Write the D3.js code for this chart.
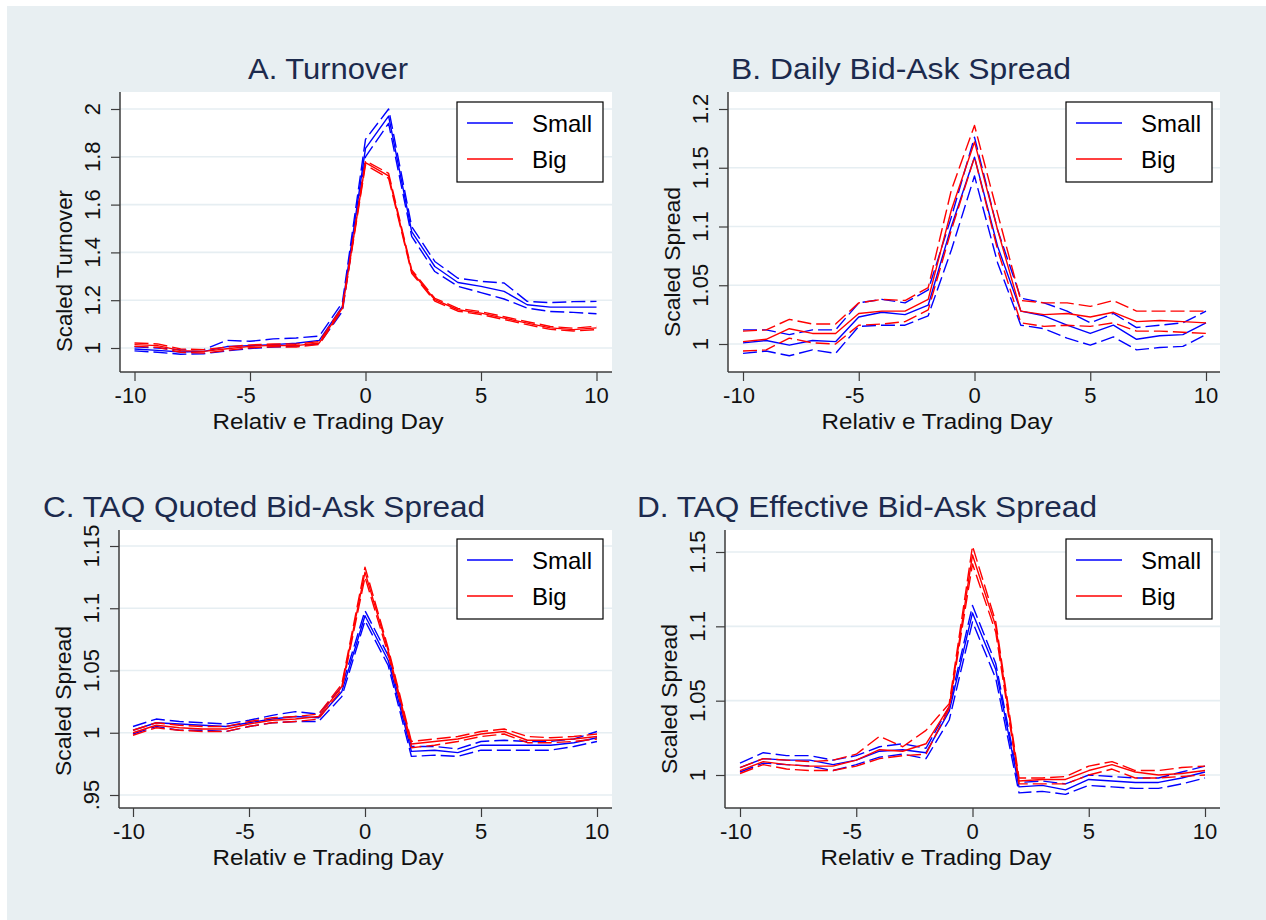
<!DOCTYPE html>
<html>
<head>
<meta charset="utf-8">
<script src="https://cdnjs.cloudflare.com/ajax/libs/d3/7.8.5/d3.min.js"></script>
<style>
    body { margin: 0; background: #ffffff; }
    text { font-family: "Liberation Sans", Arial, sans-serif; }
</style>
</head>
<body>
<div id="chart"></div>
<script>
'use strict';
// relative trading day
var days = [-10, -9, -8, -7, -6, -5, -4, -3, -2, -1, 0, 1, 2, 3, 4, 5, 6, 7, 8, 9, 10];
var xTicks = [-10, -5, 0, 5, 10];

// A. Turnover
var aSmall   = [0.996, 0.990, 0.983, 0.986, 1.006, 1.010, 1.014, 1.020, 1.032, 1.174, 1.835, 1.970, 1.487, 1.341, 1.274, 1.258, 1.237, 1.181, 1.171, 1.171, 1.171];
var aSmallHi = [1.005, 1.000, 0.992, 0.993, 1.032, 1.028, 1.038, 1.042, 1.050, 1.190, 1.873, 2.000, 1.508, 1.362, 1.292, 1.279, 1.272, 1.195, 1.190, 1.194, 1.195];
var aSmallLo = [0.988, 0.982, 0.974, 0.976, 0.988, 0.998, 1.004, 1.008, 1.018, 1.153, 1.800, 1.940, 1.467, 1.320, 1.258, 1.232, 1.205, 1.167, 1.153, 1.149, 1.143];
var aBig     = [1.014, 1.010, 0.989, 0.986, 0.997, 1.007, 1.011, 1.010, 1.021, 1.167, 1.776, 1.720, 1.320, 1.202, 1.160, 1.146, 1.125, 1.104, 1.084, 1.077, 1.084];
var aBigHi   = [1.021, 1.017, 0.996, 0.993, 1.004, 1.013, 1.017, 1.016, 1.027, 1.173, 1.783, 1.731, 1.327, 1.208, 1.166, 1.152, 1.131, 1.110, 1.090, 1.083, 1.091];
var aBigLo   = [1.007, 1.003, 0.982, 0.979, 0.990, 1.001, 1.005, 1.004, 1.015, 1.161, 1.766, 1.710, 1.313, 1.196, 1.154, 1.140, 1.119, 1.098, 1.078, 1.071, 1.077];
var aTicks = [1, 1.2, 1.4, 1.6, 1.8, 2];

// B. Daily Bid-Ask Spread
var bSmall   = [1.001, 1.003, 0.999, 1.003, 1.002, 1.023, 1.027, 1.025, 1.033, 1.100, 1.159, 1.083, 1.028, 1.024, 1.016, 1.009, 1.016, 1.004, 1.007, 1.008, 1.018];
var bSmallHi = [1.012, 1.012, 1.008, 1.012, 1.012, 1.035, 1.038, 1.035, 1.046, 1.108, 1.176, 1.097, 1.039, 1.035, 1.028, 1.018, 1.026, 1.014, 1.016, 1.018, 1.028];
var bSmallLo = [0.992, 0.994, 0.990, 0.995, 0.992, 1.015, 1.016, 1.016, 1.024, 1.080, 1.143, 1.069, 1.016, 1.013, 1.005, 0.999, 1.006, 0.995, 0.997, 0.998, 1.008];
var bBig     = [1.002, 1.004, 1.013, 1.009, 1.009, 1.026, 1.028, 1.028, 1.038, 1.114, 1.172, 1.097, 1.028, 1.025, 1.026, 1.023, 1.027, 1.019, 1.020, 1.019, 1.018];
var bBigHi   = [1.011, 1.012, 1.021, 1.017, 1.017, 1.035, 1.038, 1.037, 1.048, 1.131, 1.186, 1.111, 1.037, 1.035, 1.035, 1.032, 1.037, 1.028, 1.028, 1.028, 1.028];
var bBigLo   = [0.994, 0.995, 1.005, 1.001, 1.000, 1.016, 1.017, 1.019, 1.029, 1.097, 1.159, 1.080, 1.018, 1.015, 1.016, 1.015, 1.018, 1.011, 1.011, 1.010, 1.009];
var bTicks = [1, 1.05, 1.1, 1.15, 1.2];

// C. TAQ Quoted Bid-Ask Spread
var cSmall   = [1.002, 1.008, 1.007, 1.006, 1.005, 1.008, 1.011, 1.013, 1.012, 1.033, 1.094, 1.058, 0.985, 0.986, 0.984, 0.990, 0.990, 0.990, 0.990, 0.992, 0.996];
var cSmallHi = [1.005, 1.011, 1.009, 1.008, 1.007, 1.010, 1.014, 1.017, 1.015, 1.037, 1.098, 1.062, 0.989, 0.989, 0.987, 0.993, 0.994, 0.993, 0.993, 0.995, 1.001];
var cSmallLo = [0.999, 1.005, 1.002, 1.002, 1.001, 1.005, 1.008, 1.009, 1.009, 1.029, 1.090, 1.054, 0.981, 0.982, 0.981, 0.986, 0.986, 0.986, 0.986, 0.989, 0.993];
var cBig     = [1.000, 1.006, 1.004, 1.003, 1.003, 1.007, 1.010, 1.011, 1.013, 1.037, 1.129, 1.066, 0.991, 0.993, 0.995, 0.999, 1.001, 0.994, 0.994, 0.995, 0.997];
var cBigHi   = [1.002, 1.008, 1.006, 1.005, 1.005, 1.009, 1.012, 1.013, 1.015, 1.039, 1.133, 1.068, 0.993, 0.995, 0.997, 1.001, 1.003, 0.997, 0.996, 0.997, 0.999];
var cBigLo   = [0.998, 1.004, 1.002, 1.001, 1.001, 1.005, 1.008, 1.009, 1.011, 1.035, 1.125, 1.063, 0.988, 0.990, 0.993, 0.997, 0.999, 0.992, 0.992, 0.993, 0.995];
var cTicks = [0.95, 1, 1.05, 1.1, 1.15];

// D. TAQ Effective Bid-Ask Spread
var dSmall   = [1.005, 1.011, 1.010, 1.010, 1.007, 1.010, 1.016, 1.017, 1.015, 1.043, 1.109, 1.071, 0.992, 0.993, 0.990, 0.997, 0.996, 0.995, 0.995, 0.998, 1.002];
var dSmallHi = [1.008, 1.015, 1.013, 1.013, 1.010, 1.013, 1.019, 1.021, 1.018, 1.046, 1.114, 1.075, 0.995, 0.996, 0.994, 1.000, 0.999, 0.998, 0.998, 1.002, 1.006];
var dSmallLo = [1.002, 1.008, 1.007, 1.006, 1.003, 1.007, 1.012, 1.014, 1.011, 1.037, 1.103, 1.065, 0.988, 0.989, 0.987, 0.993, 0.992, 0.991, 0.991, 0.994, 0.998];
var dBig     = [1.003, 1.009, 1.007, 1.006, 1.006, 1.010, 1.017, 1.016, 1.021, 1.046, 1.148, 1.100, 0.996, 0.997, 0.997, 1.003, 1.007, 1.002, 1.000, 1.001, 1.003];
var dBigHi   = [1.005, 1.011, 1.010, 1.009, 1.010, 1.014, 1.026, 1.019, 1.030, 1.048, 1.154, 1.103, 0.998, 0.998, 0.999, 1.006, 1.009, 1.003, 1.003, 1.005, 1.006];
var dBigLo   = [1.001, 1.007, 1.004, 1.003, 1.003, 1.006, 1.011, 1.013, 1.014, 1.045, 1.142, 1.096, 0.994, 0.994, 0.994, 1.000, 1.004, 0.998, 0.998, 0.999, 1.000];
var dTicks = [1, 1.05, 1.1, 1.15];

var legendNames = ["Small", "Big"];
var seriesColors = ["#0000ff", "#ff0000"];

var W = 1266, H = 920;
var svg = d3.select("#chart").append("svg")
    .attr("width", W)
    .attr("height", H);

svg.append("rect")
    .attr("x", 7).attr("y", 6)
    .attr("width", W - 7).attr("height", H - 6)
    .attr("fill", "#e8eff2");

var fmtTick = function (v) {
    var s = d3.format("~g")(v);
    return s.replace(/^0\./, ".");
};

var panels = [
    {title: "A. Turnover", tx: 328, ty: 79, tlen: 160, ytitle: "Scaled Turnover", ytc: 271, ytlen: 162,
     box: [120, 92, 612, 372], xr: [134.5, 596.5], yd: [1, 2], yr: [348, 109], ticks: aTicks, xtc: 328,
     small: [aSmall, aSmallHi, aSmallLo], big: [aBig, aBigHi, aBigLo], leg: [457, 102]},
    {title: "B. Daily Bid-Ask Spread", tx: 901, ty: 79, tlen: 340, ytitle: "Scaled Spread", ytc: 262, ytlen: 150,
     box: [728, 92, 1220, 372], xr: [743, 1206], yd: [1, 1.2], yr: [344, 109], ticks: bTicks, xtc: 937,
     small: [bSmall, bSmallHi, bSmallLo], big: [bBig, bBigHi, bBigLo], leg: [1066, 102]},
    {title: "C. TAQ Quoted Bid-Ask Spread", tx: 264, ty: 517, tlen: 442, ytitle: "Scaled Spread", ytc: 701, ytlen: 150,
     box: [119, 530, 612, 808], xr: [133, 597], yd: [0.95, 1.15], yr: [795, 546], ticks: cTicks, xtc: 328,
     small: [cSmall, cSmallHi, cSmallLo], big: [cBig, cBigHi, cBigLo], leg: [457, 539]},
    {title: "D. TAQ Effective Bid-Ask Spread", tx: 867, ty: 517, tlen: 460, ytitle: "Scaled Spread", ytc: 699, ytlen: 150,
     box: [725, 530, 1220, 808], xr: [740, 1205], yd: [1, 1.15], yr: [775, 552], ticks: dTicks, xtc: 936,
     small: [dSmall, dSmallHi, dSmallLo], big: [dBig, dBigHi, dBigLo], leg: [1066, 539]}
];

panels.forEach(function (p) {
    var g = svg.append("g");
    var x0 = p.box[0], y0 = p.box[1], x1 = p.box[2], y1 = p.box[3];
    var x = d3.scaleLinear().domain([-10, 10]).range(p.xr);
    var y = d3.scaleLinear().domain(p.yd).range(p.yr);

    // title
    g.append("text")
        .attr("x", p.tx).attr("y", p.ty)
        .attr("text-anchor", "middle")
        .attr("font-size", 29)
        .attr("fill", "#1c2a4d")
        .attr("textLength", p.tlen)
        .attr("lengthAdjust", "spacingAndGlyphs")
        .text(p.title);

    // plot region
    g.append("rect")
        .attr("x", x0).attr("y", y0)
        .attr("width", x1 - x0).attr("height", y1 - y0)
        .attr("fill", "#ffffff");

    // grid
    g.selectAll(".grid")
        .data(p.ticks)
        .enter()
        .append("line")
        .attr("x1", x0).attr("x2", x1)
        .attr("y1", function (d) { return y(d); })
        .attr("y2", function (d) { return y(d); })
        .attr("stroke", "#e6eef2")
        .attr("stroke-width", 1.6);

    // y axis
    var yAxis = g.append("g")
        .attr("transform", "translate(" + x0 + ",0)")
        .call(d3.axisLeft(y).tickValues(p.ticks).tickSize(9).tickFormat(""));
    yAxis.select(".domain").remove();
    yAxis.selectAll("line").attr("stroke", "#3c3c3c").attr("stroke-width", 1.2);
    g.append("line")
        .attr("x1", x0).attr("x2", x0)
        .attr("y1", y0).attr("y2", y1)
        .attr("stroke", "#3c3c3c").attr("stroke-width", 1.5);

    g.selectAll(".ylab")
        .data(p.ticks)
        .enter()
        .append("text")
        .attr("transform", function (d) {
            return "translate(" + (x0 - 20) + "," + y(d) + ") rotate(-90)";
        })
        .attr("text-anchor", "middle")
        .attr("font-size", 22)
        .attr("fill", "#111")
        .text(fmtTick);

    g.append("text")
        .attr("transform", "translate(" + (x0 - 48) + "," + p.ytc + ") rotate(-90)")
        .attr("text-anchor", "middle")
        .attr("font-size", 22)
        .attr("fill", "#111")
        .attr("textLength", p.ytlen)
        .attr("lengthAdjust", "spacingAndGlyphs")
        .text(p.ytitle);

    // x axis
    var xAxis = g.append("g")
        .attr("transform", "translate(0," + y1 + ")")
        .call(d3.axisBottom(x).tickValues(xTicks).tickSize(9).tickFormat(""));
    xAxis.select(".domain").remove();
    xAxis.selectAll("line").attr("stroke", "#3c3c3c").attr("stroke-width", 1.2);
    g.append("line")
        .attr("x1", x0).attr("x2", x1)
        .attr("y1", y1).attr("y2", y1)
        .attr("stroke", "#3c3c3c").attr("stroke-width", 1.5);

    g.selectAll(".xlab")
        .data(xTicks)
        .enter()
        .append("text")
        .attr("x", function (d) { return x(d) - (d < 0 ? 4 : 0); })
        .attr("y", y1 + 31)
        .attr("text-anchor", "middle")
        .attr("font-size", 22)
        .attr("fill", "#111")
        .text(function (d) { return d; });

    g.append("text")
        .attr("x", p.xtc).attr("y", y1 + 57)
        .attr("text-anchor", "middle")
        .attr("font-size", 22)
        .attr("fill", "#111")
        .attr("textLength", 231)
        .attr("lengthAdjust", "spacingAndGlyphs")
        .text("Relativ e Trading Day");

    // lines
    var line = d3.line()
        .x(function (d, i) { return x(days[i]); })
        .y(function (d) { return y(d); });

    [p.small, p.big].forEach(function (set, si) {
        set.forEach(function (vals, k) {
            g.append("path")
                .datum(vals)
                .attr("d", line)
                .attr("fill", "none")
                .attr("stroke", seriesColors[si])
                .attr("stroke-width", 1.4)
                .attr("stroke-dasharray", k === 0 ? null : "14,5")
                .attr("stroke-linejoin", "round");
        });
    });

    // legend
    var lg = g.append("g")
        .attr("transform", "translate(" + p.leg[0] + "," + p.leg[1] + ")");
    lg.append("rect")
        .attr("width", 146).attr("height", 80)
        .attr("fill", "#ffffff")
        .attr("stroke", "#000")
        .attr("stroke-width", 1.2);
    legendNames.forEach(function (name, i) {
        lg.append("line")
            .attr("x1", 10).attr("x2", 56)
            .attr("y1", 21 + i * 36).attr("y2", 21 + i * 36)
            .attr("stroke", seriesColors[i])
            .attr("stroke-width", 1.4);
        lg.append("text")
            .attr("x", 75).attr("y", 30 + i * 36)
            .attr("font-size", 24)
            .attr("fill", "#000")
            .text(name);
    });
});
</script>
</body>
</html>
